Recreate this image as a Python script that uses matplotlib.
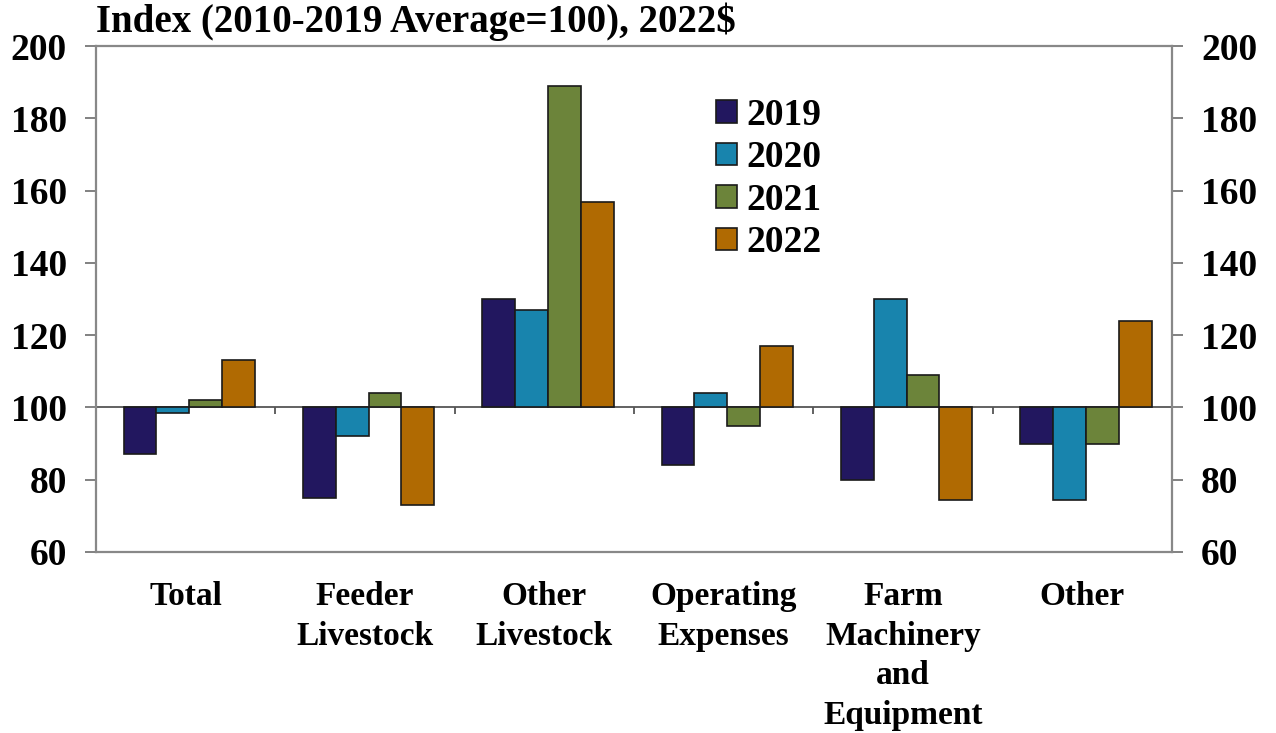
import numpy as np
import matplotlib.pyplot as plt

categories = ["Total", "Feeder\nLivestock", "Other\nLivestock", "Operating\nExpenses",
              "Farm\nMachinery\nand\nEquipment", "Other"]
years = ["2019", "2020", "2021", "2022"]
v2019 = [87, 75, 130, 84, 80, 90]
v2020 = [98.5, 92, 127, 104, 130, 74.5]
v2021 = [102, 104, 189, 95, 109, 90]
v2022 = [113, 73, 157, 117, 74.5, 124]
series = [v2019, v2020, v2021, v2022]
colors = ["#22175F", "#1884AD", "#6C843A", "#B06A02"]

plt.rcParams["font.family"] = ["Liberation Serif", "DejaVu Serif"]
plt.rcParams["font.weight"] = "bold"

fig = plt.figure(figsize=(12.76, 7.33), dpi=100)
ax = fig.add_axes([0.0752, 0.247, 0.8433, 0.690])

x = np.arange(len(categories))
w = 0.183
for i in range(len(series)):
    vals = np.array(series[i])
    ax.bar(x + (i - 1.5) * w + 0.02, vals - 100, bottom=100, width=w,
           color=colors[i], edgecolor="#1a1a1a", linewidth=1.2, label=years[i], zorder=3)

# reference line at 100 with small group separator ticks
ax.axhline(100, color="#555555", linewidth=1.3, zorder=2)
ax.vlines(np.arange(0.5, len(categories) - 0.5), 98.3, 100, color="#555555", linewidth=1.3)

ax.set_xlim(-0.5, len(categories) - 0.5)
ax.set_ylim(60, 200)
ax.set_yticks(range(60, 201, 20))
ax.set_xticks(x)
ax.set_xticklabels(categories, fontsize=24, fontweight="bold", linespacing=1.36)
ax.tick_params(axis="x", length=0, pad=21)
ax.tick_params(axis="y", labelsize=27, length=8, width=1.3, color="#777777",
               left=True, right=True, labelleft=True, labelright=True, pad=13)
for s in ax.spines.values():
    s.set_color("#888888")
    s.set_linewidth(1.6)

ax.text(0.0, 1.028, "Index (2010-2019 Average=100), 2022$", transform=ax.transAxes,
        fontsize=28, fontweight="bold", ha="left", va="baseline")

ax.legend(loc="upper left", bbox_to_anchor=(0.559, 0.935), frameon=False,
          prop={"size": 27, "weight": "bold"}, handlelength=0.55, handleheight=0.55,
          handletextpad=0.25, labelspacing=0.2, borderpad=0)

fig.savefig("out.png", dpi=100)
